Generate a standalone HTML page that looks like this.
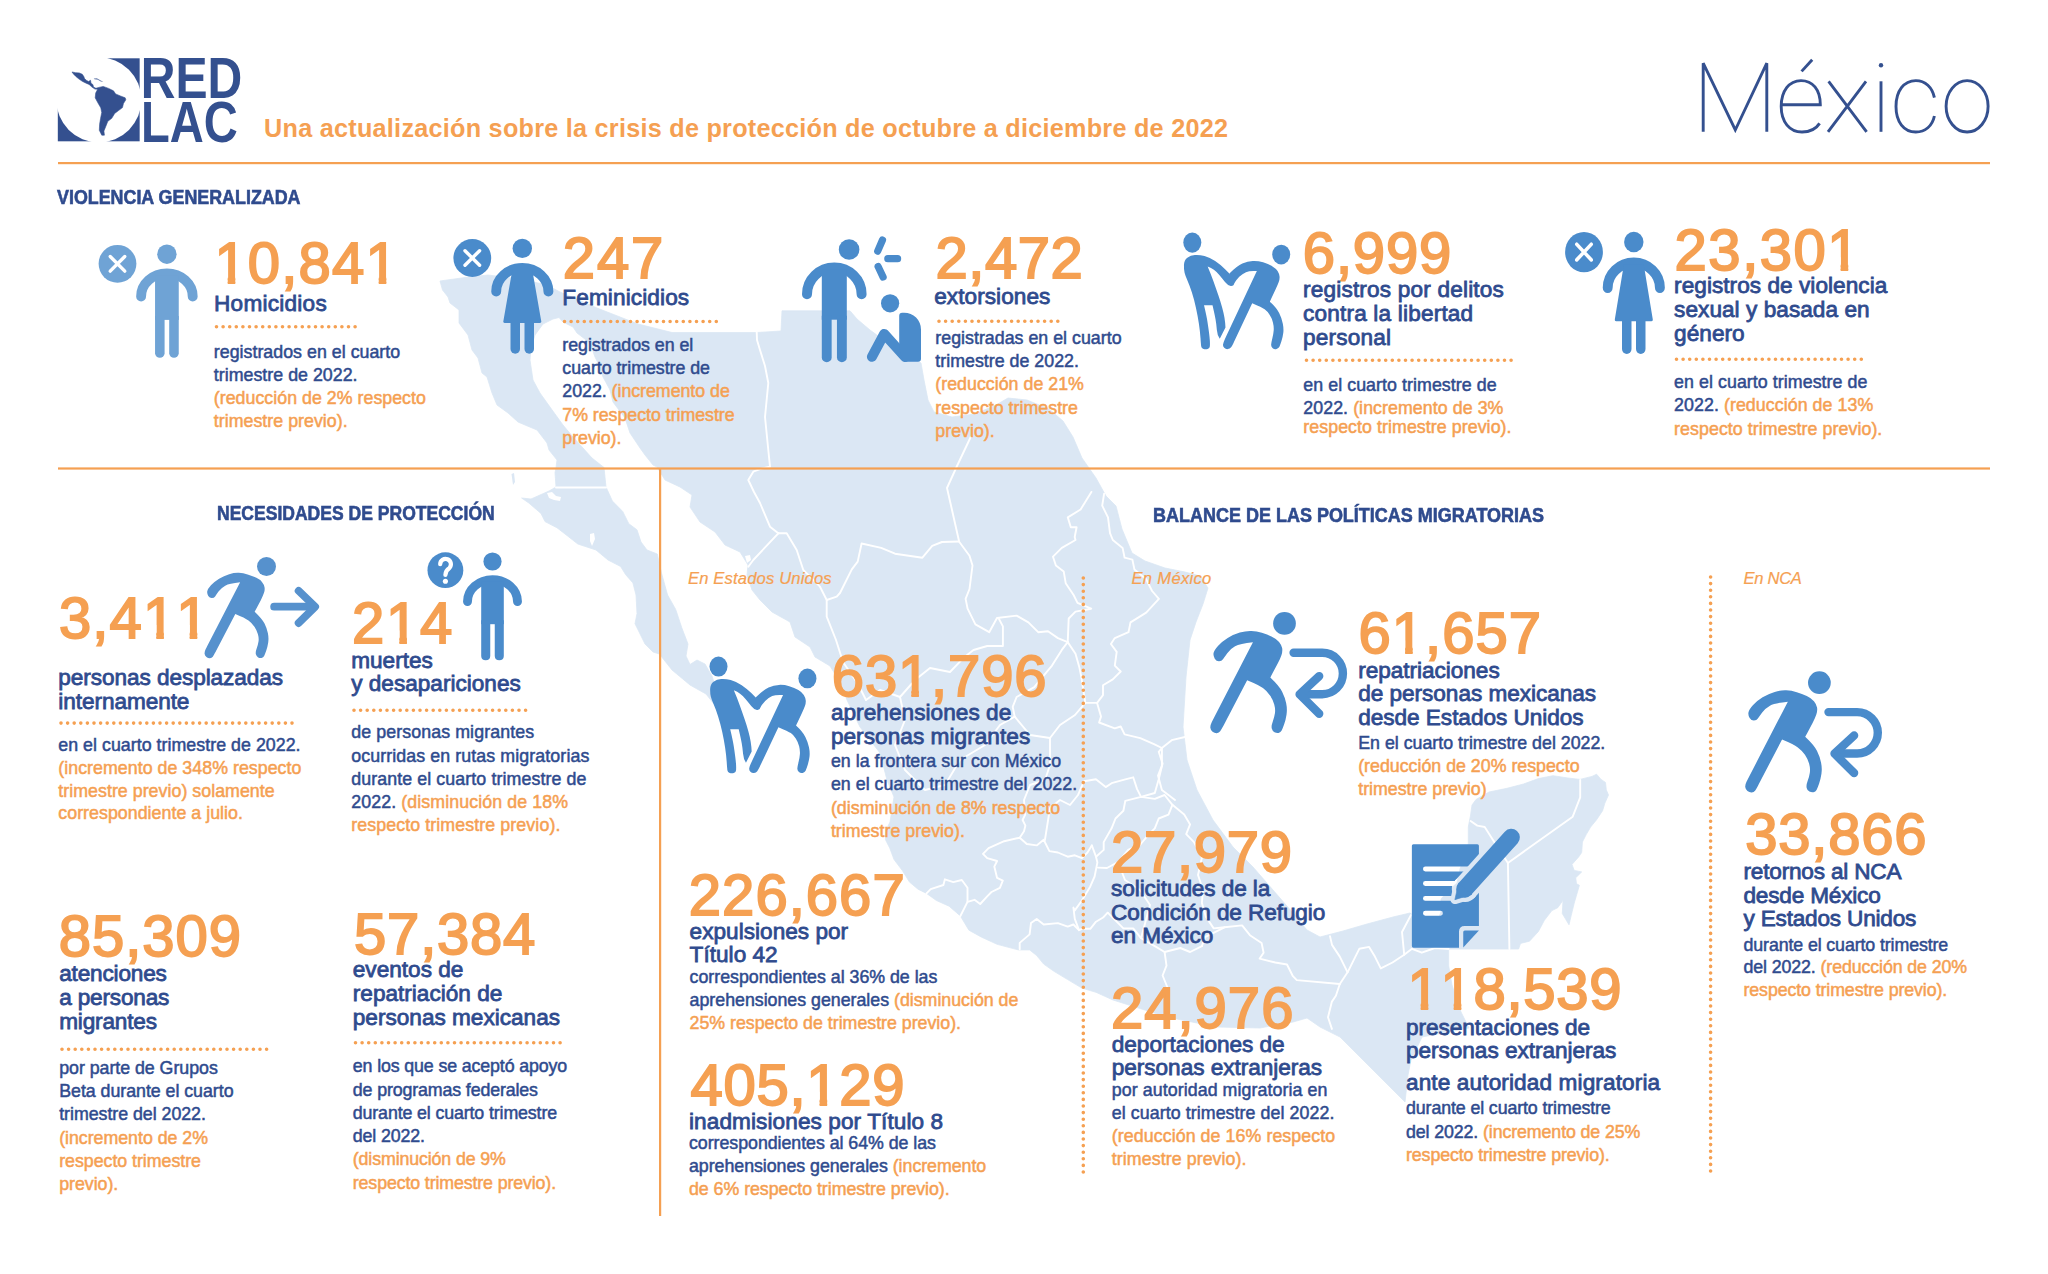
<!DOCTYPE html>
<html lang="es"><head><meta charset="utf-8"><title>REDLAC - México</title>
<style>
html,body{margin:0;padding:0;background:#fff;}
body{width:2048px;height:1274px;position:relative;overflow:hidden;font-family:"Liberation Sans",sans-serif;}
svg{position:absolute;left:0;top:0;}
.t{position:absolute;white-space:nowrap;margin:0;padding:0;}
.num{color:#f5a052;font-kerning:none;font-weight:normal;-webkit-text-stroke:1.9px #f5a052;}
.one{display:inline-block;clip-path:polygon(0 0,0.36em 0,0.36em 100%,0.23em 100%,0.23em 62%,0 62%);}
.lbl{color:#2f4b8e;-webkit-text-stroke:0.8px #2f4b8e;}
.bd{color:#2f4b8e;-webkit-text-stroke:0.5px #2f4b8e;}
.bd .o{color:#f5a052;-webkit-text-stroke:0.5px #f5a052;}
.hd{color:#2f4b8e;font-weight:bold;-webkit-text-stroke:0.6px #2f4b8e;}
.sub{color:#f5a052;font-weight:bold;}
.it{color:#f5a052;font-style:italic;-webkit-text-stroke:0.2px #f5a052;}
.dot{stroke:#f5a052;stroke-width:3.6;stroke-linecap:round;stroke-dasharray:0 6.6;fill:none;}
</style></head><body>

<svg width="2048" height="1274" viewBox="0 0 2048 1274">
<g id="mexmap">
<polygon points="440.0,281.0 465.0,277.5 488.0,275.0 520.0,279.0 547.0,285.0 560.0,292.0 597.0,308.0 638.0,324.0 672.0,332.5 757.0,332.5 781.0,331.0 782.0,310.8 850.0,310.8 857.0,319.0 870.0,330.0 885.0,341.0 900.0,350.0 912.0,357.0 921.0,363.0 924.0,380.0 928.0,400.0 934.0,412.0 952.0,417.0 975.0,414.0 996.0,405.0 1008.0,398.0 1027.0,400.0 1049.0,409.0 1063.0,421.0 1073.0,437.0 1082.0,458.0 1096.0,478.0 1106.0,496.0 1116.0,506.0 1122.0,529.0 1132.0,553.0 1145.0,561.0 1165.0,568.0 1185.0,572.0 1200.0,576.0 1208.0,588.0 1203.0,604.0 1196.0,622.0 1190.0,640.0 1186.0,677.0 1183.0,727.0 1187.0,760.0 1197.0,790.0 1213.0,820.0 1233.0,847.0 1253.0,867.0 1273.0,890.0 1293.0,913.0 1307.0,930.0 1320.0,937.0 1343.0,931.0 1367.0,924.0 1393.0,917.0 1410.0,913.0 1414.0,916.0 1425.0,920.0 1438.0,920.0 1441.0,912.0 1441.0,899.0 1449.0,890.0 1457.0,883.0 1460.0,869.0 1465.0,855.0 1468.3,843.5 1468.3,827.0 1470.6,815.0 1472.0,805.0 1476.0,799.5 1489.0,792.0 1507.0,788.3 1523.5,784.0 1538.4,778.6 1553.0,775.7 1568.0,778.0 1580.0,779.4 1592.0,776.4 1596.6,774.2 1601.0,779.4 1605.5,782.4 1606.3,789.8 1608.5,795.0 1604.8,803.3 1602.6,810.7 1596.6,819.7 1590.6,827.1 1586.2,834.6 1582.4,842.0 1581.7,852.5 1578.7,856.9 1572.0,864.4 1574.2,870.4 1581.7,871.9 1575.7,877.8 1576.5,883.8 1579.4,885.3 1574.2,903.2 1571.3,915.1 1569.0,924.8 1562.3,913.6 1563.0,900.2 1557.8,907.7 1551.9,910.6 1544.4,920.3 1538.4,931.5 1529.5,941.2 1520.5,943.4 1518.6,949.0 1448.7,949.0 1448.7,966.0 1452.0,985.0 1461.0,1012.0 1469.0,1028.0 1422.0,1037.0 1411.0,1060.0 1408.0,1075.0 1405.0,1102.0 1400.0,1097.0 1380.0,1077.0 1360.0,1057.0 1340.0,1037.0 1320.0,1027.0 1307.0,1018.0 1293.0,1022.0 1260.0,1028.0 1217.0,1027.0 1167.0,1017.0 1113.0,1000.0 1096.0,992.3 1081.9,988.1 1067.7,979.6 1053.6,971.1 1043.7,964.1 1036.7,955.6 1029.6,949.9 1018.3,949.9 997.1,944.3 981.6,937.2 968.9,930.2 960.4,916.0 949.1,906.2 936.4,900.5 926.5,893.4 918.0,889.2 909.5,882.1 902.5,870.8 894.0,859.5 889.8,848.2 885.5,839.8 886.0,830.0 890.0,822.0 894.0,797.0 887.0,780.0 880.0,753.0 860.0,727.0 847.0,700.0 840.0,682.0 830.0,666.0 815.0,657.0 810.0,647.0 795.0,637.0 790.0,622.0 772.0,612.0 760.0,600.0 752.0,590.0 747.0,575.0 748.0,565.0 740.0,552.0 725.0,545.0 715.0,532.0 700.0,522.0 690.0,507.0 692.0,495.0 680.0,487.0 665.0,480.0 657.0,467.0 653.0,465.0 645.0,455.0 640.0,448.0 630.0,433.0 625.0,418.0 613.0,402.0 610.0,390.0 603.0,377.0 598.0,363.0 595.0,357.0 590.0,343.0 577.0,333.0 573.0,327.0 563.0,322.0 559.0,317.5 553.0,319.0 543.0,324.0 535.0,335.0 531.0,348.0 530.0,360.0 533.0,380.0 540.0,393.0 550.0,407.0 563.0,425.0 573.0,437.0 583.0,448.0 592.0,458.0 604.0,467.5 606.0,487.0 612.4,501.0 622.7,511.4 628.8,523.7 637.0,529.8 641.0,542.0 647.0,550.0 657.3,554.0 661.4,572.7 667.6,595.0 675.7,609.4 681.8,627.8 688.0,644.0 686.0,656.0 690.0,664.5 697.0,660.0 705.0,664.0 712.0,676.0 717.0,692.0 714.0,704.0 706.0,694.0 690.0,685.0 672.0,670.0 659.4,654.0 653.0,652.0 645.0,644.0 639.0,631.8 635.0,623.7 637.0,613.5 636.0,595.0 632.9,582.9 625.7,574.7 620.6,566.5 608.0,560.0 596.0,550.0 577.8,544.0 567.6,536.0 557.0,527.8 545.0,521.6 541.0,513.5 528.8,503.0 521.6,498.0 531.0,499.0 549.0,491.0 556.0,487.0 555.0,472.7 556.0,467.5 557.0,460.0 549.0,450.0 547.0,443.0 537.0,430.0 525.0,425.0 518.0,422.0 508.0,413.0 497.0,405.0 492.0,393.0 487.0,377.0 482.0,373.0 478.0,358.0 472.0,350.0 468.0,335.0 459.0,323.0 459.0,310.0 450.0,303.0 448.0,297.0 442.5,290.0" fill="#dbe7f4" stroke="#dbe7f4" stroke-width="0.8" stroke-linejoin="round"/>
<polygon points="511.5,474.0 514.0,473.0 515.0,482.0 513.0,485.0" fill="#dbe7f4"/>
<polygon points="547.0,493.0 552.0,492.0 556.0,496.0 561.0,497.0 560.0,501.0 554.0,500.0 549.0,498.0" fill="#fff"/>
<polygon points="590.0,534.0 594.0,533.0 595.0,539.0 592.0,546.0 590.0,541.0" fill="#fff"/>
<polygon points="745.0,556.0 750.0,555.0 751.0,560.0 747.0,563.0" fill="#fff"/>
<polygon points="1579.0,861.0 1588.0,858.0 1590.0,864.0 1583.0,868.0" fill="#fff"/>
<polyline points="556.0,487.5 606.0,487.5" fill="none" stroke="#fff" stroke-width="1.9" stroke-linejoin="round" stroke-linecap="round"/>
<polyline points="756.7,332.0 757.0,340.0 760.0,350.0 765.0,366.0 768.3,383.0 765.0,417.0 768.3,450.0 770.0,466.7 760.0,469.0 753.3,471.7 748.3,480.0 754.0,492.0 760.0,503.0 770.0,526.7 778.3,533.3" fill="none" stroke="#fff" stroke-width="1.9" stroke-linejoin="round" stroke-linecap="round"/>
<polyline points="778.3,533.3 753.3,560.0 748.3,566.7" fill="none" stroke="#fff" stroke-width="1.9" stroke-linejoin="round" stroke-linecap="round"/>
<polyline points="778.3,533.3 786.7,533.3 796.7,550.0 803.3,570.0 820.0,586.7 826.7,600.0 826.7,616.7 836.0,640.0 843.0,662.0 858.0,684.0 866.0,700.0" fill="none" stroke="#fff" stroke-width="1.9" stroke-linejoin="round" stroke-linecap="round"/>
<polyline points="970.7,437.0 957.0,466.0 947.0,488.0 952.0,510.0 959.0,541.0" fill="none" stroke="#fff" stroke-width="1.9" stroke-linejoin="round" stroke-linecap="round"/>
<polyline points="826.7,600.0 836.7,596.7 840.0,593.0 851.8,569.4 857.7,561.6 861.6,543.5 881.2,547.9 895.0,553.7 922.4,557.7 932.2,545.9 942.0,542.0 959.0,541.5" fill="none" stroke="#fff" stroke-width="1.9" stroke-linejoin="round" stroke-linecap="round"/>
<polyline points="959.0,541.5 969.5,555.7 972.5,565.5 969.5,589.0 965.6,598.9 967.6,608.7 975.4,624.4 989.2,632.2 997.0,618.0 1016.6,615.6 1028.4,622.4 1038.2,632.2 1048.0,631.3 1057.9,638.1 1067.7,642.1" fill="none" stroke="#fff" stroke-width="1.9" stroke-linejoin="round" stroke-linecap="round"/>
<polyline points="999.0,619.0 1002.9,626.4 1002.9,646.0 987.2,646.0 973.5,650.0 963.6,657.8" fill="none" stroke="#fff" stroke-width="1.9" stroke-linejoin="round" stroke-linecap="round"/>
<polyline points="1091.4,491.9 1080.6,509.5 1067.8,517.4 1070.8,527.2 1076.6,527.2 1074.7,537.0 1075.5,540.0 1061.8,547.9 1053.0,556.7 1055.9,565.5 1063.7,571.4 1065.7,583.2 1073.6,595.0 1077.5,602.8 1091.2,608.7 1075.5,611.6 1068.7,618.5 1067.7,642.1" fill="none" stroke="#fff" stroke-width="1.9" stroke-linejoin="round" stroke-linecap="round"/>
<polyline points="1067.7,642.1 1061.8,649.9 1052.0,665.6 1042.2,677.4 1034.3,687.2 1016.6,697.0 1012.7,706.8 1014.7,716.6" fill="none" stroke="#fff" stroke-width="1.9" stroke-linejoin="round" stroke-linecap="round"/>
<polyline points="1067.7,642.1 1075.5,653.8 1079.4,667.6 1081.4,677.4 1085.3,702.9 1097.1,702.9" fill="none" stroke="#fff" stroke-width="1.9" stroke-linejoin="round" stroke-linecap="round"/>
<polyline points="1104.1,493.8 1102.2,505.6 1108.0,517.4 1110.0,533.1 1112.8,540.0 1122.6,547.9 1124.6,557.7 1132.4,559.6 1134.4,569.4 1146.2,579.3 1152.1,591.0 1158.9,598.9 1146.2,612.6 1130.5,622.4 1128.5,632.2 1114.8,638.1 1110.9,644.0 1116.7,651.9 1114.8,665.6 1120.7,671.5 1112.8,679.4 1103.0,685.2 1103.0,695.1 1097.1,702.9 1101.0,716.6 1099.1,722.5 1114.8,728.4 1120.7,726.5 1124.6,734.3 1140.3,738.2 1154.0,744.1 1161.9,748.0 1171.7,740.2 1185.0,737.0" fill="none" stroke="#fff" stroke-width="1.9" stroke-linejoin="round" stroke-linecap="round"/>
<polyline points="1161.9,748.0 1161.9,765.7 1158.0,775.5 1161.9,790.0 1175.0,800.0" fill="none" stroke="#fff" stroke-width="1.9" stroke-linejoin="round" stroke-linecap="round"/>
<polyline points="866.0,700.0 880.0,690.0 900.0,697.0 915.0,680.0 930.0,668.0 950.0,672.0 963.6,657.8" fill="none" stroke="#fff" stroke-width="1.9" stroke-linejoin="round" stroke-linecap="round"/>
<polyline points="1014.7,716.6 1000.0,725.0 985.0,745.0 960.0,760.0 945.0,785.0 925.0,790.0 905.0,770.0 895.0,745.0 905.0,720.0 900.0,697.0" fill="none" stroke="#fff" stroke-width="1.9" stroke-linejoin="round" stroke-linecap="round"/>
<polyline points="1014.7,716.6 1030.0,735.0 1050.0,738.0 1060.0,725.0 1075.0,715.0 1085.3,702.9" fill="none" stroke="#fff" stroke-width="1.9" stroke-linejoin="round" stroke-linecap="round"/>
<polyline points="926.5,893.4 930.7,889.2 943.4,885.0 944.9,879.3 953.3,882.1 961.8,880.0 967.5,887.8 967.5,901.9 960.4,916.0" fill="none" stroke="#fff" stroke-width="1.9" stroke-linejoin="round" stroke-linecap="round"/>
<polyline points="967.5,901.9 974.5,899.8 980.2,904.0 987.2,896.3 991.5,892.0 999.9,887.8 1002.8,880.7 997.1,877.9 994.3,866.6 997.1,861.0 987.2,858.1 983.0,853.9 988.6,848.2 1004.2,841.2 1019.7,837.7 1024.0,831.3 1025.4,825.6 1022.6,820.0 1025.2,814.6 1024.0,800.0 1030.0,785.0 1045.0,780.0 1050.0,765.0 1050.0,738.0" fill="none" stroke="#fff" stroke-width="1.9" stroke-linejoin="round" stroke-linecap="round"/>
<polyline points="1019.7,837.7 1026.8,844.0 1036.7,845.4 1043.7,839.8 1049.4,851.1 1057.9,852.5 1067.7,856.7 1074.8,855.3 1081.9,858.1 1087.5,852.5 1091.8,845.4" fill="none" stroke="#fff" stroke-width="1.9" stroke-linejoin="round" stroke-linecap="round"/>
<polyline points="1019.7,949.2 1019.7,942.9 1029.6,934.4 1031.0,923.1 1036.7,918.9 1043.7,924.5 1057.9,923.1 1067.7,926.6 1073.4,924.5 1079.0,930.2 1081.9,928.8 1090.3,928.8 1096.0,921.7 1103.1,917.5 1107.7,912.7" fill="none" stroke="#fff" stroke-width="1.9" stroke-linejoin="round" stroke-linecap="round"/>
<polyline points="1091.8,845.4 1096.0,856.7 1097.4,862.4 1094.6,876.5 1090.3,886.4 1081.9,900.5 1074.8,910.4 1073.4,907.6 1074.8,918.9 1079.0,930.2" fill="none" stroke="#fff" stroke-width="1.9" stroke-linejoin="round" stroke-linecap="round"/>
<polyline points="1084.1,781.2 1095.9,779.3 1105.7,787.1 1111.6,783.2 1125.3,779.3 1133.2,777.3 1137.1,789.1 1141.0,796.9 1125.3,800.8 1123.4,810.7 1115.5,818.5 1111.6,828.3 1103.7,842.1 1103.7,849.9 1096.0,856.7" fill="none" stroke="#fff" stroke-width="1.9" stroke-linejoin="round" stroke-linecap="round"/>
<polyline points="1084.1,781.2 1078.0,795.0 1070.0,805.0 1060.0,800.0 1050.0,808.0 1044.9,840.1" fill="none" stroke="#fff" stroke-width="1.9" stroke-linejoin="round" stroke-linecap="round"/>
<polyline points="1141.0,796.9 1154.8,793.0 1158.7,779.3 1162.6,763.6 1158.7,751.8 1161.9,748.0" fill="none" stroke="#fff" stroke-width="1.9" stroke-linejoin="round" stroke-linecap="round"/>
<polyline points="1141.0,796.9 1154.8,798.9 1164.6,795.0 1172.4,804.8 1168.5,814.6 1158.7,818.5 1154.8,828.3 1148.9,834.2 1140.0,845.0 1128.0,850.0 1118.0,862.0 1107.0,868.0 1097.9,867.6" fill="none" stroke="#fff" stroke-width="1.9" stroke-linejoin="round" stroke-linecap="round"/>
<polyline points="1172.4,804.8 1184.2,814.6 1190.1,824.4 1186.2,834.2 1194.0,842.1 1201.9,857.8 1198.0,875.0 1203.0,890.0 1201.9,902.9 1205.8,916.6 1213.7,928.4 1224.5,927.3" fill="none" stroke="#fff" stroke-width="1.9" stroke-linejoin="round" stroke-linecap="round"/>
<polyline points="1107.7,912.7 1123.4,928.4 1133.2,928.4 1141.0,938.2 1154.8,946.1 1164.6,952.0 1180.3,948.0 1190.1,952.0 1201.9,946.1" fill="none" stroke="#fff" stroke-width="1.9" stroke-linejoin="round" stroke-linecap="round"/>
<polyline points="1164.6,952.0 1166.5,965.7 1162.6,975.5 1168.5,990.0 1167.0,1017.0" fill="none" stroke="#fff" stroke-width="1.9" stroke-linejoin="round" stroke-linecap="round"/>
<polyline points="1118.0,862.0 1125.0,880.0 1140.0,890.0 1150.0,905.0 1141.0,938.2" fill="none" stroke="#fff" stroke-width="1.9" stroke-linejoin="round" stroke-linecap="round"/>
<polyline points="1201.9,946.1 1205.0,937.1 1224.5,927.3 1242.1,925.4 1249.9,935.2 1261.6,943.0 1263.6,952.7 1259.7,958.6 1275.3,962.5 1287.0,964.5 1292.9,976.2 1296.8,980.1 1339.8,984.0" fill="none" stroke="#fff" stroke-width="1.9" stroke-linejoin="round" stroke-linecap="round"/>
<polyline points="1339.8,984.0 1335.9,995.7 1331.9,1001.6 1328.0,1017.2 1331.9,1028.9" fill="none" stroke="#fff" stroke-width="1.9" stroke-linejoin="round" stroke-linecap="round"/>
<polyline points="1339.8,984.0 1347.6,972.3 1355.4,956.6 1359.3,948.8 1369.1,946.9 1374.9,956.6 1380.8,968.4 1392.5,962.5 1404.2,954.7 1412.0,948.8 1421.8,952.7 1435.0,948.0 1448.7,949.0" fill="none" stroke="#fff" stroke-width="1.9" stroke-linejoin="round" stroke-linecap="round"/>
<polyline points="1330.0,936.1 1332.0,944.9 1339.8,956.6 1347.6,972.3" fill="none" stroke="#fff" stroke-width="1.9" stroke-linejoin="round" stroke-linecap="round"/>
<polyline points="1404.2,954.7 1402.0,932.0 1411.0,915.0" fill="none" stroke="#fff" stroke-width="1.9" stroke-linejoin="round" stroke-linecap="round"/>
<polyline points="1470.6,821.0 1477.3,825.6 1484.7,827.0 1495.2,843.5 1507.9,862.9" fill="none" stroke="#fff" stroke-width="1.9" stroke-linejoin="round" stroke-linecap="round"/>
<polyline points="1580.2,780.0 1580.2,797.3 1572.7,816.7 1507.9,862.9" fill="none" stroke="#fff" stroke-width="1.9" stroke-linejoin="round" stroke-linecap="round"/>
<polyline points="1507.9,862.9 1509.4,949.0" fill="none" stroke="#fff" stroke-width="1.9" stroke-linejoin="round" stroke-linecap="round"/>
</g>
<rect x="58" y="162" width="1932" height="2.2" fill="#f5a052"/>
<rect x="58" y="467.4" width="1932" height="2.2" fill="#f5a052"/>
<rect x="659" y="468" width="2.2" height="748" fill="#f5a052"/>
<line x1="216.5" y1="326.8" x2="355.5" y2="326.8" class="dot"/>
<line x1="564.5" y1="321.5" x2="721.5" y2="321.5" class="dot"/>
<line x1="939.0" y1="321.2" x2="1059.5" y2="321.2" class="dot"/>
<line x1="1306.5" y1="360.3" x2="1513.0" y2="360.3" class="dot"/>
<line x1="1676.5" y1="359.3" x2="1867.0" y2="359.3" class="dot"/>
<line x1="61.0" y1="723.1" x2="294.0" y2="723.1" class="dot"/>
<line x1="354.0" y1="710.2" x2="531.0" y2="710.2" class="dot"/>
<line x1="62.0" y1="1049.3" x2="269.0" y2="1049.3" class="dot"/>
<line x1="355.5" y1="1042.7" x2="562.5" y2="1042.7" class="dot"/>
<line x1="1083.3" y1="578.0" x2="1083.3" y2="1172.0" class="dot"/>
<line x1="1710.6" y1="577.0" x2="1710.6" y2="1172.0" class="dot"/>
<g transform="translate(50,50) scale(0.09766)"><rect x="80" y="85" width="838" height="850" fill="#34508f"/><circle cx="500" cy="510" r="436" fill="#fff"/><rect x="70" y="75" width="430" height="435" fill="#fff"/><polygon points="225,225 262,232 300,235 330,248 345,270 355,295 375,312 395,322 415,310 420,340 440,355 445,378 470,392 500,383 545,373 600,393 650,418 672,450 720,470 770,490 776,510 752,548 742,590 702,620 662,650 632,700 592,730 572,780 552,830 557,872 530,872 505,822 508,760 518,700 530,640 520,592 490,540 463,490 468,440 488,402 460,400 430,380 400,352 370,340 330,320 290,292 262,268 240,245" fill="#34508f" stroke="#34508f" stroke-width="6" stroke-linejoin="round"/><polygon points="448,292 480,290 520,312 548,325 520,322 490,305 455,300" fill="#34508f" opacity="0.75"/></g><text x="140.7" y="98" font-family="Liberation Sans, sans-serif" font-weight="bold" font-size="58" fill="#34508f" textLength="101.5" lengthAdjust="spacingAndGlyphs">RED</text><text x="140.9" y="141.6" font-family="Liberation Sans, sans-serif" font-weight="bold" font-size="58" fill="#34508f" textLength="96.8" lengthAdjust="spacingAndGlyphs">LAC</text>
<g stroke="#34508f" stroke-width="2.9" fill="none" stroke-linecap="butt" stroke-linejoin="miter"><path d="M1703.2,131.8 V63.2 L1735.3,130 L1766.8,63.2 V131.8"/><path d="M1781.6,104.7 H1820.3 C1820.3,89.5 1812.5,80.6 1801,80.6 C1789.2,80.6 1781.2,91 1781.2,106.5 C1781.2,122 1789.7,132 1802,132 C1810,132 1816,129 1819.6,123.4"/><path d="M1801.6,71.4 L1812.2,59.7"/><path d="M1828.6,81.3 L1866.6,131.8 M1866,81.3 L1828,131.8"/><path d="M1881,81.3 V131.8"/><path d="M1934.4,97.6 C1932.3,87.4 1925.3,80.6 1915.8,80.6 C1903.9,80.6 1896,91 1896,106.5 C1896,122 1903.9,132 1915.8,132 C1925.3,132 1932.3,126 1934.4,116"/><ellipse cx="1967.1" cy="106.3" rx="21" ry="25.7"/></g><circle cx="1881" cy="65.2" r="2.2" fill="#34508f"/>
<circle cx="117.5" cy="263.8" r="18.9" fill="#6fa3d5"/><path d="M110.2,256.5 L124.8,271.1 M124.8,256.5 L110.2,271.1" stroke="#fff" stroke-width="3.4" stroke-linecap="round" fill="none"/>
<g fill="#6fa3d5"><circle cx="166.9" cy="254.2" r="9.7"/><path d="M141.10,296.5 A25.80,23.10 0 0 1 192.70,296.5" fill="none" stroke="#6fa3d5" stroke-width="9.9" stroke-linecap="round"/><rect x="155.05" y="275.40" width="23.70" height="44.50"/><path d="M155.05,315.90 h9.55 V353.23 a4.78,4.78 0 0 1 -9.55,0 Z"/><path d="M169.20,315.90 h9.55 V353.23 a4.78,4.78 0 0 1 -9.55,0 Z"/></g>
<circle cx="472.3" cy="258" r="18.9" fill="#4a8bcb"/><path d="M465.0,250.7 L479.6,265.3 M479.6,250.7 L465.0,265.3" stroke="#fff" stroke-width="3.4" stroke-linecap="round" fill="none"/>
<g fill="#4a8bcb"><circle cx="522.3" cy="248.4" r="9.7"/><path d="M496.20,291.50 A26.1,23.6 0 0 1 548.40,291.50" fill="none" stroke="#4a8bcb" stroke-width="9.9" stroke-linecap="round"/><path d="M512.40,269.40 L532.20,269.40 L541.30,321.40 Q541.60,323.00 540.00,323.00 L504.60,323.00 Q503.00,323.00 503.30,321.40 Z"/><path d="M510.50,320.40 h9.5 V348.95 a4.75,4.75 0 0 1 -9.5,0 Z"/><path d="M524.50,320.40 h9.5 V348.95 a4.75,4.75 0 0 1 -9.5,0 Z"/></g>
<g fill="#4a8bcb"><circle cx="849.1" cy="249.5" r="10.3"/><path d="M807.00,294.3 A27.30,26.70 0 0 1 861.60,294.3" fill="none" stroke="#4a8bcb" stroke-width="10.0" stroke-linecap="round"/><rect x="821.80" y="269.60" width="25.00" height="50.10"/><path d="M821.80,315.70 h9.85 V357.38 a4.92,4.92 0 0 1 -9.85,0 Z"/><path d="M836.95,315.70 h9.85 V357.38 a4.92,4.92 0 0 1 -9.85,0 Z"/></g><g stroke="#4a8bcb" stroke-width="7.2" stroke-linecap="round" fill="none"><path d="M882.5,240 L877.7,251.2 M887.8,258.7 L897.6,258.7 M878.1,266.5 L883.1,277.1"/></g><circle cx="890.1" cy="303.3" r="9.1" fill="#4a8bcb"/><path d="M871.9,356.8 L884.2,333.9 L905,357" stroke="#4a8bcb" stroke-width="10" stroke-linecap="round" stroke-linejoin="round" fill="none"/><path d="M899.2,315.7 a3,3 0 0 1 3,-3 h2 a16.8,16.8 0 0 1 16.8,16.8 v29.3 a3,3 0 0 1 -3,3 h-14 L899.2,350 Z" fill="#4a8bcb"/>
<g transform="translate(1175,225) scale(0.10363)" fill="#4a8bcb"><ellipse cx="167" cy="170" rx="87" ry="97"/><ellipse cx="1025" cy="285" rx="87" ry="95"/><path d="M315.00,400.00 Q345.00,470.00 370.00,540.00 Q395.00,610.00 417.50,675.00 Q440.00,740.00 455.00,795.00 Q470.00,850.00 477.50,895.00 Q485.00,940.00 487.00,990.00 L487.00,990.00 L432.00,1098.00 Q408.00,1065.00 404.00,1012.50 Q400.00,960.00 391.00,910.00 Q382.00,860.00 362.00,775.00 L362.00,775.00 L280.00,775.00 Q305.00,880.00 313.50,935.00 Q322.00,990.00 328.50,1040.00 Q335.00,1090.00 336.50,1120.00 Q338.00,1150.00 336.50,1170.00 Q335.00,1190.00 315.00,1196.50 Q295.00,1203.00 275.00,1196.50 Q255.00,1190.00 252.50,1170.00 Q250.00,1150.00 246.00,1090.00 Q242.00,1030.00 231.00,955.00 Q220.00,880.00 202.50,800.00 Q185.00,720.00 162.50,650.00 Q140.00,580.00 120.00,535.00 Q100.00,490.00 92.50,460.00 Q85.00,430.00 86.50,385.00 Q88.00,340.00 119.00,316.50 Q150.00,293.00 192.50,290.00 Q235.00,287.00 285.00,299.50 Q335.00,312.00 387.50,348.50 Q440.00,385.00 481.00,423.50 Q522.00,462.00 550.00,498.50 Q578.00,535.00 571.50,563.50 Q565.00,592.00 537.50,588.50 Q510.00,585.00 482.50,550.00 Q455.00,515.00 427.50,482.50 Q400.00,450.00 375.00,432.50 Q350.00,415.00 315.00,400.00 Z"/><path d="M560.00,580.00 Q590.00,530.00 620.00,500.00 Q650.00,470.00 685.00,455.00 Q720.00,440.00 790.00,445.00 L790.00,445.00 Q490.00,1083.00 479.00,1106.50 Q468.00,1130.00 464.00,1150.00 Q460.00,1170.00 475.00,1185.00 Q490.00,1200.00 510.00,1197.50 Q530.00,1195.00 541.00,1180.00 Q552.00,1165.00 562.50,1142.50 Q573.00,1120.00 745.00,755.00 L745.00,755.00 Q840.00,795.00 865.00,812.50 Q890.00,830.00 912.50,865.00 Q935.00,900.00 945.00,940.00 Q955.00,980.00 952.50,1015.00 Q950.00,1050.00 940.00,1090.00 Q930.00,1130.00 928.00,1152.50 Q926.00,1175.00 943.00,1189.00 Q960.00,1203.00 980.00,1196.50 Q1000.00,1190.00 1007.50,1175.00 Q1015.00,1160.00 1027.50,1120.00 Q1040.00,1080.00 1045.00,1040.00 Q1050.00,1000.00 1040.00,950.00 Q1030.00,900.00 1005.00,850.00 Q980.00,800.00 915.00,740.00 L915.00,740.00 Q950.00,665.00 970.00,622.50 Q990.00,580.00 1001.00,550.00 Q1012.00,520.00 1008.50,495.00 Q1005.00,470.00 990.00,445.00 Q975.00,420.00 937.50,397.50 Q900.00,375.00 850.00,360.00 Q800.00,345.00 750.00,347.50 Q700.00,350.00 650.00,372.50 Q600.00,395.00 525.00,468.00 L525.00,468.00 L535.00,560.00 Z"/></g>
<g transform="translate(0,252.1) scale(1,1.07) translate(0,-252.1)"><circle cx="1584" cy="252.1" r="18.9" fill="#4a8bcb"/><path d="M1576.7,244.79999999999998 L1591.3,259.4 M1591.3,244.79999999999998 L1576.7,259.4" stroke="#fff" stroke-width="3.4" stroke-linecap="round" fill="none"/></g>
<g transform="translate(0,242) scale(1,1.063) translate(0,-242)"><g fill="#4a8bcb"><circle cx="1633.8" cy="242" r="9.7"/><path d="M1607.70,285.10 A26.1,23.6 0 0 1 1659.90,285.10" fill="none" stroke="#4a8bcb" stroke-width="9.9" stroke-linecap="round"/><path d="M1623.90,263.00 L1643.70,263.00 L1652.80,315.00 Q1653.10,316.60 1651.50,316.60 L1616.10,316.60 Q1614.50,316.60 1614.80,315.00 Z"/><path d="M1622.00,314.00 h9.5 V342.55 a4.75,4.75 0 0 1 -9.5,0 Z"/><path d="M1636.00,314.00 h9.5 V342.55 a4.75,4.75 0 0 1 -9.5,0 Z"/></g></g>
<g transform="translate(199.31,552.01) scale(0.08783)" fill="#5691cd"><circle cx="765" cy="165" r="108"/><path d="M630.00,680.00 Q715.00,760.00 742.50,815.00 Q770.00,870.00 781.00,925.00 Q792.00,980.00 784.50,1030.00 Q777.00,1080.00 762.50,1122.50 Q748.00,1165.00 738.00,1184.00 Q728.00,1203.00 709.00,1206.50 Q690.00,1210.00 670.00,1200.00 Q650.00,1190.00 644.00,1165.00 Q638.00,1140.00 653.00,1100.00 Q668.00,1060.00 674.00,1020.00 Q680.00,980.00 667.50,935.00 Q655.00,890.00 627.50,850.00 Q600.00,810.00 560.00,780.00 Q520.00,750.00 410.00,705.00 L410.00,705.00 Q190.00,1127.00 177.50,1151.00 Q165.00,1175.00 153.50,1191.50 Q142.00,1208.00 121.00,1209.00 Q100.00,1210.00 81.00,1195.00 Q62.00,1180.00 60.00,1157.50 Q58.00,1135.00 73.00,1105.00 Q88.00,1075.00 465.00,345.00 L465.00,345.00 Q340.00,358.00 295.00,383.00 Q250.00,408.00 221.00,448.00 Q192.00,488.00 180.00,505.50 Q168.00,523.00 143.00,524.00 Q118.00,525.00 102.00,500.00 Q86.00,475.00 90.50,447.50 Q95.00,420.00 132.50,379.00 Q170.00,338.00 225.00,304.00 Q280.00,270.00 340.00,252.50 Q400.00,235.00 450.00,237.50 Q500.00,240.00 550.00,255.00 Q600.00,270.00 645.00,291.00 Q690.00,312.00 713.50,341.00 Q737.00,370.00 742.50,400.00 Q748.00,430.00 736.50,465.00 Q725.00,500.00 701.50,545.00 Q678.00,590.00 630.00,680.00 Z"/></g>
<g stroke="#5691cd" stroke-width="7.7" stroke-linecap="round" stroke-linejoin="round" fill="none"><path d="M274.1,606.7 L314,606.7"/><path d="M298.6,590.8 L315.2,606.7 L298.6,623.1"/></g>
<circle cx="445.4" cy="570.2" r="17.9" fill="#4a8bcb"/><path d="M440.20,564.20 A5.35,5.35 0 1 1 449.50,567.90 Q445.40,570.60 445.40,574.90" stroke="#fff" stroke-width="4.2" stroke-linecap="round" fill="none"/><circle cx="445.4" cy="581.30" r="2.55" fill="#fff"/>
<g fill="#4a8bcb"><circle cx="492.5" cy="561.5" r="9.1"/><path d="M467.50,601.5 A25.00,21.90 0 0 1 517.50,601.5" fill="none" stroke="#4a8bcb" stroke-width="8.9" stroke-linecap="round"/><rect x="481.20" y="581.60" width="22.60" height="42.60"/><path d="M481.20,620.20 h9.05 V655.88 a4.53,4.53 0 0 1 -9.05,0 Z"/><path d="M494.75,620.20 h9.05 V655.88 a4.53,4.53 0 0 1 -9.05,0 Z"/></g>
<g transform="translate(701.2,648.9) scale(0.10363)" fill="#4a8bcb"><ellipse cx="167" cy="170" rx="87" ry="97"/><ellipse cx="1025" cy="285" rx="87" ry="95"/><path d="M315.00,400.00 Q345.00,470.00 370.00,540.00 Q395.00,610.00 417.50,675.00 Q440.00,740.00 455.00,795.00 Q470.00,850.00 477.50,895.00 Q485.00,940.00 487.00,990.00 L487.00,990.00 L432.00,1098.00 Q408.00,1065.00 404.00,1012.50 Q400.00,960.00 391.00,910.00 Q382.00,860.00 362.00,775.00 L362.00,775.00 L280.00,775.00 Q305.00,880.00 313.50,935.00 Q322.00,990.00 328.50,1040.00 Q335.00,1090.00 336.50,1120.00 Q338.00,1150.00 336.50,1170.00 Q335.00,1190.00 315.00,1196.50 Q295.00,1203.00 275.00,1196.50 Q255.00,1190.00 252.50,1170.00 Q250.00,1150.00 246.00,1090.00 Q242.00,1030.00 231.00,955.00 Q220.00,880.00 202.50,800.00 Q185.00,720.00 162.50,650.00 Q140.00,580.00 120.00,535.00 Q100.00,490.00 92.50,460.00 Q85.00,430.00 86.50,385.00 Q88.00,340.00 119.00,316.50 Q150.00,293.00 192.50,290.00 Q235.00,287.00 285.00,299.50 Q335.00,312.00 387.50,348.50 Q440.00,385.00 481.00,423.50 Q522.00,462.00 550.00,498.50 Q578.00,535.00 571.50,563.50 Q565.00,592.00 537.50,588.50 Q510.00,585.00 482.50,550.00 Q455.00,515.00 427.50,482.50 Q400.00,450.00 375.00,432.50 Q350.00,415.00 315.00,400.00 Z"/><path d="M560.00,580.00 Q590.00,530.00 620.00,500.00 Q650.00,470.00 685.00,455.00 Q720.00,440.00 790.00,445.00 L790.00,445.00 Q490.00,1083.00 479.00,1106.50 Q468.00,1130.00 464.00,1150.00 Q460.00,1170.00 475.00,1185.00 Q490.00,1200.00 510.00,1197.50 Q530.00,1195.00 541.00,1180.00 Q552.00,1165.00 562.50,1142.50 Q573.00,1120.00 745.00,755.00 L745.00,755.00 Q840.00,795.00 865.00,812.50 Q890.00,830.00 912.50,865.00 Q935.00,900.00 945.00,940.00 Q955.00,980.00 952.50,1015.00 Q950.00,1050.00 940.00,1090.00 Q930.00,1130.00 928.00,1152.50 Q926.00,1175.00 943.00,1189.00 Q960.00,1203.00 980.00,1196.50 Q1000.00,1190.00 1007.50,1175.00 Q1015.00,1160.00 1027.50,1120.00 Q1040.00,1080.00 1045.00,1040.00 Q1050.00,1000.00 1040.00,950.00 Q1030.00,900.00 1005.00,850.00 Q980.00,800.00 915.00,740.00 L915.00,740.00 Q950.00,665.00 970.00,622.50 Q990.00,580.00 1001.00,550.00 Q1012.00,520.00 1008.50,495.00 Q1005.00,470.00 990.00,445.00 Q975.00,420.00 937.50,397.50 Q900.00,375.00 850.00,360.00 Q800.00,345.00 750.00,347.50 Q700.00,350.00 650.00,372.50 Q600.00,395.00 525.00,468.00 L525.00,468.00 L535.00,560.00 Z"/></g>
<g transform="translate(1204.03,606.04) scale(0.10519)" fill="#4a8bcb"><circle cx="765" cy="165" r="108"/><path d="M630.00,680.00 Q715.00,760.00 742.50,815.00 Q770.00,870.00 781.00,925.00 Q792.00,980.00 784.50,1030.00 Q777.00,1080.00 762.50,1122.50 Q748.00,1165.00 738.00,1184.00 Q728.00,1203.00 709.00,1206.50 Q690.00,1210.00 670.00,1200.00 Q650.00,1190.00 644.00,1165.00 Q638.00,1140.00 653.00,1100.00 Q668.00,1060.00 674.00,1020.00 Q680.00,980.00 667.50,935.00 Q655.00,890.00 627.50,850.00 Q600.00,810.00 560.00,780.00 Q520.00,750.00 410.00,705.00 L410.00,705.00 Q190.00,1127.00 177.50,1151.00 Q165.00,1175.00 153.50,1191.50 Q142.00,1208.00 121.00,1209.00 Q100.00,1210.00 81.00,1195.00 Q62.00,1180.00 60.00,1157.50 Q58.00,1135.00 73.00,1105.00 Q88.00,1075.00 465.00,345.00 L465.00,345.00 Q340.00,358.00 295.00,383.00 Q250.00,408.00 221.00,448.00 Q192.00,488.00 180.00,505.50 Q168.00,523.00 143.00,524.00 Q118.00,525.00 102.00,500.00 Q86.00,475.00 90.50,447.50 Q95.00,420.00 132.50,379.00 Q170.00,338.00 225.00,304.00 Q280.00,270.00 340.00,252.50 Q400.00,235.00 450.00,237.50 Q500.00,240.00 550.00,255.00 Q600.00,270.00 645.00,291.00 Q690.00,312.00 713.50,341.00 Q737.00,370.00 742.50,400.00 Q748.00,430.00 736.50,465.00 Q725.00,500.00 701.50,545.00 Q678.00,590.00 630.00,680.00 Z"/></g>
<g transform="translate(0,0)" stroke="#4a8bcb" stroke-width="8.4" stroke-linecap="round" stroke-linejoin="round" fill="none"><path d="M1293.6,652.8 L1322.2,652.8 A20.7,20.7 0 0 1 1322.2,694.2 L1301,694.2"/><path d="M1319.2,676.2 L1299.6,694.3 L1319.2,713.8"/></g>
<defs><mask id="docmask" maskUnits="userSpaceOnUse" x="0" y="0" width="1300" height="1300"><rect x="0" y="0" width="1300" height="1300" fill="#fff"/><path d="M1050,165 L612,652" stroke="#000" stroke-width="245" stroke-linecap="round" fill="none"/><path d="M553,597 L518,752 L677,703 Z" stroke="#000" stroke-width="84" stroke-linejoin="round" fill="#000"/><path d="M240,462 H700 M240,600 H640 M240,740 H560 M240,880 H382" stroke="#000" stroke-width="46" stroke-linecap="round" fill="none"/></mask></defs><g transform="translate(1400,820) scale(0.10593)"><path mask="url(#docmask)" d="M127,228 H730 Q745,228 745,243 V1000 H612 Q557,1000 557,1055 V1205 H127 Q112,1205 112,1190 V243 Q112,228 127,228 Z" fill="#4a8bcb"/><path d="M597,1057 Q597,1042 612,1042 H745 L597,1203 Z" fill="#4a8bcb"/><path d="M1050,165 L612,652" stroke="#4a8bcb" stroke-width="163" stroke-linecap="round" fill="none"/><path d="M553,597 L518,752 L677,703 Z" fill="#4a8bcb" stroke="#4a8bcb" stroke-width="6" stroke-linejoin="round"/></g>
<g transform="translate(1738.93,665.34) scale(0.10519)" fill="#4a8bcb"><circle cx="765" cy="165" r="108"/><path d="M630.00,680.00 Q715.00,760.00 742.50,815.00 Q770.00,870.00 781.00,925.00 Q792.00,980.00 784.50,1030.00 Q777.00,1080.00 762.50,1122.50 Q748.00,1165.00 738.00,1184.00 Q728.00,1203.00 709.00,1206.50 Q690.00,1210.00 670.00,1200.00 Q650.00,1190.00 644.00,1165.00 Q638.00,1140.00 653.00,1100.00 Q668.00,1060.00 674.00,1020.00 Q680.00,980.00 667.50,935.00 Q655.00,890.00 627.50,850.00 Q600.00,810.00 560.00,780.00 Q520.00,750.00 410.00,705.00 L410.00,705.00 Q190.00,1127.00 177.50,1151.00 Q165.00,1175.00 153.50,1191.50 Q142.00,1208.00 121.00,1209.00 Q100.00,1210.00 81.00,1195.00 Q62.00,1180.00 60.00,1157.50 Q58.00,1135.00 73.00,1105.00 Q88.00,1075.00 465.00,345.00 L465.00,345.00 Q340.00,358.00 295.00,383.00 Q250.00,408.00 221.00,448.00 Q192.00,488.00 180.00,505.50 Q168.00,523.00 143.00,524.00 Q118.00,525.00 102.00,500.00 Q86.00,475.00 90.50,447.50 Q95.00,420.00 132.50,379.00 Q170.00,338.00 225.00,304.00 Q280.00,270.00 340.00,252.50 Q400.00,235.00 450.00,237.50 Q500.00,240.00 550.00,255.00 Q600.00,270.00 645.00,291.00 Q690.00,312.00 713.50,341.00 Q737.00,370.00 742.50,400.00 Q748.00,430.00 736.50,465.00 Q725.00,500.00 701.50,545.00 Q678.00,590.00 630.00,680.00 Z"/></g>
<g transform="translate(534.9,59.3)" stroke="#4a8bcb" stroke-width="8.4" stroke-linecap="round" stroke-linejoin="round" fill="none"><path d="M1293.6,652.8 L1322.2,652.8 A20.7,20.7 0 0 1 1322.2,694.2 L1301,694.2"/><path d="M1319.2,676.2 L1299.6,694.3 L1319.2,713.8"/></g>
</svg>
<div class="t sub" style="left:264.1px;top:112.97px;font-size:25.2px;line-height:30px;letter-spacing:0.265px;">Una actualización sobre la crisis de protección de octubre a diciembre de 2022</div>
<div class="t hd" style="left:56.8px;top:186.41px;font-size:19.6px;line-height:22px;transform:scaleX(0.9118);transform-origin:0 50%;">VIOLENCIA GENERALIZADA</div>
<div class="t hd" style="left:217.1px;top:502.21px;font-size:19.6px;line-height:22px;transform:scaleX(0.8950);transform-origin:0 50%;">NECESIDADES DE PROTECCIÓN</div>
<div class="t hd" style="left:1152.6px;top:504.21px;font-size:19.6px;line-height:22px;transform:scaleX(0.9180);transform-origin:0 50%;">BALANCE DE LAS POLÍTICAS MIGRATORIAS</div>
<div class="t num" style="left:214.4px;top:233.30px;font-size:58.0px;line-height:60px;letter-spacing:1.170px;"><span class="one">1</span>0,84<span class="one">1</span></div>
<div class="t lbl" style="left:214.0px;top:291.77px;font-size:22.6px;line-height:24.0px;letter-spacing:0.248px;">Homicidios</div>
<div class="t bd" style="left:213.8px;top:340.73px;font-size:17.8px;line-height:23.2px;letter-spacing:0.024px;">registrados en el cuarto<br>trimestre de 2022.<br><span class="o">(reducción de 2% respecto</span><br><span class="o">trimestre previo).</span></div>
<div class="t num" style="left:562.8px;top:227.60px;font-size:58.0px;line-height:60px;letter-spacing:1.847px;">247</div>
<div class="t lbl" style="left:562.3px;top:285.97px;font-size:22.6px;line-height:24.0px;letter-spacing:0.117px;">Feminicidios</div>
<div class="t bd" style="left:562.3px;top:334.03px;font-size:17.8px;line-height:23.2px;letter-spacing:-0.029px;">registrados en el<br>cuarto trimestre de<br>2022. <span class="o">(incremento de</span><br><span class="o">7% respecto trimestre</span><br><span class="o">previo).</span></div>
<div class="t num" style="left:935.4px;top:227.60px;font-size:58.0px;line-height:60px;letter-spacing:0.581px;">2,472</div>
<div class="t lbl" style="left:934.2px;top:284.87px;font-size:22.6px;line-height:24.0px;letter-spacing:0.066px;">extorsiones</div>
<div class="t bd" style="left:935.3px;top:326.93px;font-size:17.8px;line-height:23.2px;letter-spacing:0.020px;">registradas en el cuarto<br>trimestre de 2022.<br><span class="o">(reducción de 21%</span><br><span class="o">respecto trimestre</span><br><span class="o">previo).</span></div>
<div class="t num" style="left:1302.8px;top:222.50px;font-size:58.0px;line-height:60px;letter-spacing:0.833px;">6,999</div>
<div class="t lbl" style="left:1303.0px;top:277.77px;font-size:22.6px;line-height:24.0px;letter-spacing:0.185px;">registros por delitos<br>contra la libertad<br>personal</div>
<div class="t bd" style="left:1303.3px;top:373.93px;font-size:17.8px;line-height:23.2px;letter-spacing:0.065px;">en el cuarto trimestre de</div>
<div class="t bd" style="left:1303.3px;top:396.93px;font-size:17.8px;line-height:23.2px;letter-spacing:0.065px;">2022. <span class="o">(incremento de 3%</span></div>
<div class="t bd" style="left:1303.3px;top:415.83px;font-size:17.8px;line-height:23.2px;letter-spacing:0.065px;"><span class="o">respecto trimestre previo).</span></div>
<div class="t num" style="left:1674.6px;top:220.00px;font-size:58.0px;line-height:60px;letter-spacing:1.517px;">23,30<span class="one">1</span></div>
<div class="t lbl" style="left:1674.1px;top:273.97px;font-size:22.6px;line-height:24.0px;letter-spacing:0.045px;">registros de violencia<br>sexual y basada en<br>género</div>
<div class="t bd" style="left:1674.1px;top:371.23px;font-size:17.8px;line-height:23.2px;letter-spacing:0.065px;">en el cuarto trimestre de<br>2022. <span class="o">(reducción de 13%</span><br><span class="o">respecto trimestre previo).</span></div>
<div class="t num" style="left:59.0px;top:587.70px;font-size:58.0px;line-height:60px;letter-spacing:1.115px;">3,4<span class="one">1</span><span class="one">1</span></div>
<div class="t lbl" style="left:58.3px;top:666.17px;font-size:22.6px;line-height:23.6px;letter-spacing:-0.068px;">personas desplazadas<br>internamente</div>
<div class="t bd" style="left:58.3px;top:734.03px;font-size:17.8px;line-height:22.8px;letter-spacing:0.035px;">en el cuarto trimestre de 2022.<br><span class="o">(incremento de 348% respecto</span><br><span class="o">trimestre previo) solamente</span><br><span class="o">correspondiente a julio.</span></div>
<div class="t num" style="left:352.1px;top:593.30px;font-size:58.0px;line-height:60px;letter-spacing:1.667px;">2<span class="one">1</span>4</div>
<div class="t lbl" style="left:351.2px;top:648.87px;font-size:22.6px;line-height:23.6px;">muertes<br>y desapariciones</div>
<div class="t bd" style="left:351.2px;top:721.28px;font-size:17.8px;line-height:23.3px;letter-spacing:0.101px;">de personas migrantes<br>ocurridas en rutas migratorias<br>durante el cuarto trimestre de<br>2022. <span class="o">(disminución de 18%</span><br><span class="o">respecto trimestre previo).</span></div>
<div class="t num" style="left:58.7px;top:906.10px;font-size:58.0px;line-height:60px;letter-spacing:0.997px;">85,309</div>
<div class="t lbl" style="left:59.2px;top:961.82px;font-size:22.6px;line-height:23.9px;letter-spacing:-0.182px;">atenciones<br>a personas<br>migrantes</div>
<div class="t bd" style="left:59.2px;top:1056.91px;font-size:17.8px;line-height:23.25px;letter-spacing:-0.030px;">por parte de Grupos<br>Beta durante el cuarto<br>trimestre del 2022.<br><span class="o">(incremento de 2%</span><br><span class="o">respecto trimestre</span><br><span class="o">previo).</span></div>
<div class="t num" style="left:354.1px;top:903.90px;font-size:58.0px;line-height:60px;letter-spacing:0.765px;">57,384</div>
<div class="t lbl" style="left:352.8px;top:958.42px;font-size:22.6px;line-height:23.7px;">eventos de<br>repatriación de<br>personas mexicanas</div>
<div class="t bd" style="left:352.8px;top:1055.31px;font-size:17.8px;line-height:23.25px;letter-spacing:-0.124px;">en los que se aceptó apoyo<br>de programas federales<br>durante el cuarto trimestre<br>del 2022.<br><span class="o">(disminución de 9%</span><br><span class="o">respecto trimestre previo).</span></div>
<div class="t it" style="left:688.0px;top:568.85px;font-size:16.6px;line-height:20px;letter-spacing:0.154px;">En Estados Unidos</div>
<div class="t num" style="left:831.8px;top:645.70px;font-size:58.0px;line-height:60px;letter-spacing:0.838px;">63<span class="one">1</span>,796</div>
<div class="t lbl" style="left:830.9px;top:701.27px;font-size:22.6px;line-height:23.6px;letter-spacing:0.051px;">aprehensiones de<br>personas migrantes</div>
<div class="t bd" style="left:830.9px;top:750.06px;font-size:17.8px;line-height:23.35px;letter-spacing:0.035px;">en la frontera sur con México<br>en el cuarto trimestre del 2022.<br><span class="o">(disminución de 8% respecto</span><br><span class="o">trimestre previo).</span></div>
<div class="t num" style="left:688.8px;top:864.70px;font-size:58.0px;line-height:60px;letter-spacing:1.035px;">226,667</div>
<div class="t lbl" style="left:689.6px;top:919.57px;font-size:22.6px;line-height:23.6px;letter-spacing:0.020px;">expulsiones por<br>Título 42</div>
<div class="t bd" style="left:689.6px;top:966.28px;font-size:17.8px;line-height:23.1px;letter-spacing:-0.011px;">correspondientes al 36% de las<br>aprehensiones generales <span class="o">(disminución de</span><br><span class="o">25% respecto de trimestre previo).</span></div>
<div class="t num" style="left:690.6px;top:1054.60px;font-size:58.0px;line-height:60px;letter-spacing:0.696px;">405,<span class="one">1</span>29</div>
<div class="t lbl" style="left:689.0px;top:1109.57px;font-size:22.6px;line-height:23.6px;letter-spacing:0.088px;">inadmisiones por Título 8</div>
<div class="t bd" style="left:689.0px;top:1132.48px;font-size:17.8px;line-height:22.9px;letter-spacing:-0.038px;">correspondientes al 64% de las<br>aprehensiones generales <span class="o">(incremento</span><br><span class="o">de 6% respecto trimestre previo).</span></div>
<div class="t it" style="left:1131.5px;top:568.85px;font-size:16.6px;line-height:20px;letter-spacing:0.289px;">En México</div>
<div class="t num" style="left:1358.5px;top:603.30px;font-size:58.0px;line-height:60px;letter-spacing:1.033px;">6<span class="one">1</span>,657</div>
<div class="t lbl" style="left:1358.2px;top:658.89px;font-size:22.6px;line-height:23.55px;letter-spacing:-0.033px;">repatriaciones<br>de personas mexicanas<br>desde Estados Unidos</div>
<div class="t bd" style="left:1358.2px;top:732.28px;font-size:17.8px;line-height:23.1px;">En el cuarto trimestre del 2022.<br><span class="o">(reducción de 20% respecto</span><br><span class="o">trimestre previo)</span></div>
<div class="t num" style="left:1111.0px;top:821.90px;font-size:58.0px;line-height:60px;letter-spacing:0.735px;">27,979</div>
<div class="t lbl" style="left:1111.1px;top:876.62px;font-size:22.6px;line-height:23.9px;letter-spacing:-0.095px;">solicitudes de la<br>Condición de Refugio<br>en México</div>
<div class="t num" style="left:1111.0px;top:977.90px;font-size:58.0px;line-height:60px;letter-spacing:0.997px;">24,976</div>
<div class="t lbl" style="left:1111.8px;top:1032.92px;font-size:22.6px;line-height:23.5px;letter-spacing:-0.038px;">deportaciones de<br>personas extranjeras</div>
<div class="t bd" style="left:1111.8px;top:1079.33px;font-size:17.8px;line-height:23.0px;letter-spacing:0.078px;">por autoridad migratoria en<br>el cuarto trimestre del 2022.<br><span class="o">(reducción de 16% respecto</span><br><span class="o">trimestre previo).</span></div>
<div class="t num" style="left:1407.4px;top:959.10px;font-size:58.0px;line-height:60px;letter-spacing:0.748px;"><span class="one">1</span><span class="one">1</span>8,539</div>
<div class="t lbl" style="left:1406.0px;top:1015.57px;font-size:22.6px;line-height:23.6px;letter-spacing:-0.038px;">presentaciones de<br>personas extranjeras</div>
<div class="t lbl" style="left:1406.0px;top:1070.57px;font-size:22.6px;line-height:23.6px;letter-spacing:0.121px;">ante autoridad migratoria</div>
<div class="t bd" style="left:1406.0px;top:1097.43px;font-size:17.8px;line-height:23.2px;letter-spacing:-0.107px;">durante el cuarto trimestre<br>del 2022. <span class="o">(incremento de 25%</span><br><span class="o">respecto trimestre previo).</span></div>
<div class="t it" style="left:1743.5px;top:569.35px;font-size:16.6px;line-height:20px;letter-spacing:-0.311px;">En NCA</div>
<div class="t num" style="left:1745.3px;top:804.20px;font-size:58.0px;line-height:60px;letter-spacing:0.781px;">33,866</div>
<div class="t lbl" style="left:1743.5px;top:859.79px;font-size:22.6px;line-height:23.75px;letter-spacing:-0.198px;">retornos al NCA<br>desde México<br>y Estados Unidos</div>
<div class="t bd" style="left:1743.5px;top:933.73px;font-size:17.8px;line-height:22.6px;letter-spacing:-0.108px;">durante el cuarto trimestre<br>del 2022. <span class="o">(reducción de 20%</span><br><span class="o">respecto trimestre previo).</span></div>
</body></html>
